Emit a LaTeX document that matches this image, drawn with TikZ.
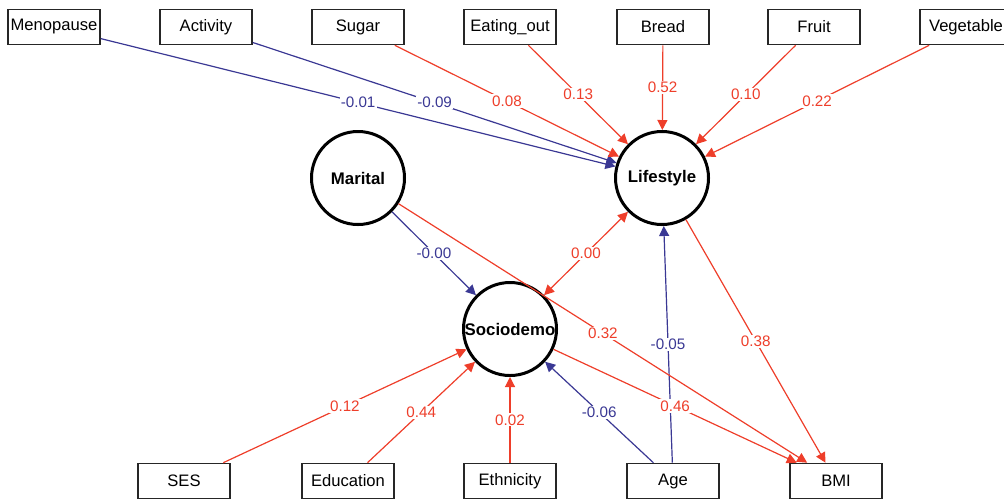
\documentclass[tikz,border=0pt]{standalone}
\usepackage{fontspec}
\setmainfont{Liberation Sans}
\usetikzlibrary{arrows.meta}
\definecolor{posred}{RGB}{238,62,42}
\definecolor{negblue}{RGB}{58,56,148}
\tikzset{
  manifest/.style={draw=black!85,line width=0.8pt,minimum width=46pt,minimum height=17.5pt,inner sep=0pt,font=\fontsize{8.3}{9}\selectfont},
  latent/.style={circle,draw=black,line width=1.5pt,minimum size=46.5pt,inner sep=0pt,font=\fontsize{8.4}{9}\selectfont\bfseries},
  posedge/.style={posred,line width=0.6pt,-{Triangle[length=5pt,width=5pt]}},
  negedge/.style={negblue,line width=0.6pt,-{Triangle[length=5pt,width=5pt]}},
  wlabel/.style={fill=white,inner sep=0.6pt,font=\fontsize{7.6}{8}\selectfont},
}
\begin{document}
\begin{tikzpicture}[x=0.5pt,y=-0.5pt]
    \useasboundingbox (0,0) rectangle (1004,500);
    % top row of indicators
    \node[manifest] (menopause) at (54,27) {Menopause};
    \node[manifest] (activity) at (206,27) {Activity};
    \node[manifest] (sugar) at (358,27) {Sugar};
    \node[manifest] (eatout) at (510,27) {Eating\_out};
    \node[manifest] (bread) at (663,27) {Bread};
    \node[manifest] (fruit) at (814,27) {Fruit};
    \node[manifest] (vegetable) at (966,27) {Vegetable};
    % latent variables
    \node[latent] (marital) at (358,178) {Marital};
    \node[latent] (lifestyle) at (662,178) {Lifestyle};
    \node[latent] (sociodemo) at (510,329) {Sociodemo};
    % bottom row
    \node[manifest] (ses) at (184,481) {SES};
    \node[manifest] (education) at (348,481) {Education};
    \node[manifest] (ethnicity) at (510,481) {Ethnicity};
    \node[manifest] (age) at (673,481) {Age};
    \node[manifest] (bmi) at (836,481) {BMI};
    % paths into Lifestyle
    \draw[negedge] (menopause) -- node[wlabel,text=negblue]{-0.01} (lifestyle);
    \draw[negedge] (activity) -- node[wlabel,text=negblue]{-0.09} (lifestyle);
    \draw[posedge] (sugar) -- node[wlabel]{0.08} (lifestyle);
    \draw[posedge] (eatout) -- node[wlabel]{0.13} (lifestyle);
    \draw[posedge] (bread) -- node[wlabel]{0.52} (lifestyle);
    \draw[posedge] (fruit) -- node[wlabel]{0.10} (lifestyle);
    \draw[posedge] (vegetable) -- node[wlabel]{0.22} (lifestyle);
    \draw[negedge] (age) -- node[wlabel,text=negblue]{-0.05} (lifestyle);
    % paths into Sociodemo
    \draw[negedge] (marital) -- node[wlabel,text=negblue]{-0.00} (sociodemo);
    \draw[posedge,{Triangle[length=5pt,width=5pt]}-{Triangle[length=5pt,width=5pt]}] (sociodemo) -- node[wlabel]{0.00} (lifestyle);
    \draw[posedge] (ses) -- node[wlabel]{0.12} (sociodemo);
    \draw[posedge] (education) -- node[wlabel]{0.44} (sociodemo);
    \draw[posedge] (ethnicity) -- node[wlabel]{0.02} (sociodemo);
    \draw[negedge] (age) -- node[wlabel,text=negblue]{-0.06} (sociodemo);
    % paths into BMI
    \draw[posedge] (marital) -- node[wlabel]{0.32} (bmi);
    \draw[posedge] (lifestyle) -- node[wlabel]{0.38} (bmi);
    \draw[posedge] (sociodemo) -- node[wlabel]{0.46} (bmi);
\end{tikzpicture}
\end{document}
